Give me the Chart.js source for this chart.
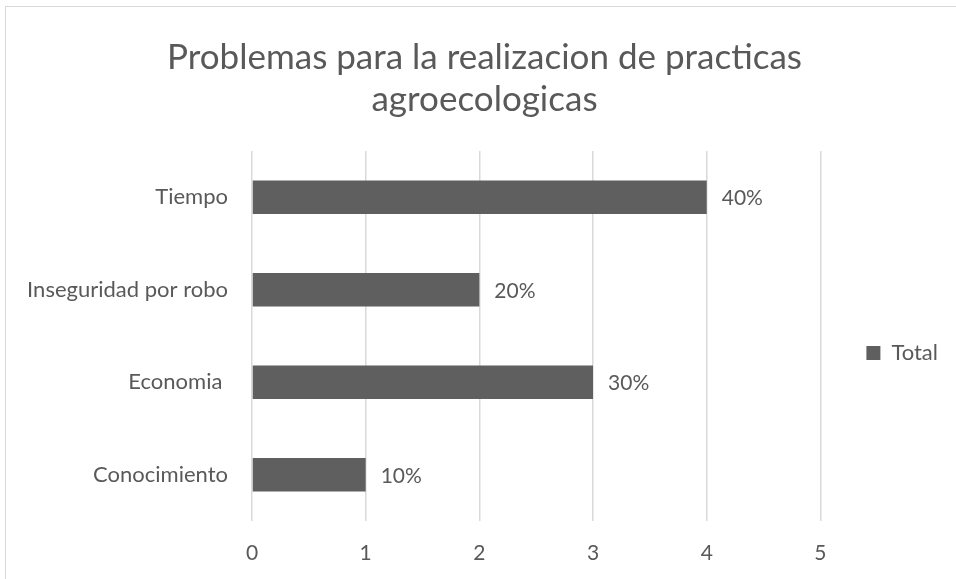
<!DOCTYPE html>
<html>
<head>
<meta charset="utf-8">
<script src="https://cdn.jsdelivr.net/npm/chart.js@4"></script>
<style>
  html, body { margin: 0; padding: 0; background: #fff; }
  #marco {
    position: absolute; left: 5px; top: 6px; width: 960px; height: 580px;
    border-top: 1.5px solid #d9d9d9; border-left: 1.5px solid #d9d9d9;
    box-sizing: border-box;
  }
  #caja { position: absolute; left: 0; top: 0; width: 956px; height: 579px; }
</style>
</head>
<body>
<div id="marco"></div>
<div id="caja"><canvas id="graficoProblemas"></canvas></div>
<script>
const categorias = ['Tiempo', 'Inseguridad por robo', 'Economia ', 'Conocimiento'];
const valores = [4, 2, 3, 1];
const etiquetas = ['40%', '20%', '30%', '10%'];
const ticksX = [0, 1, 2, 3, 4, 5];

const grisTexto = '#595959';
const grisBarra = '#5f5f5f';
const grisLinea = '#d9d9d9';
const fuente = 'Lato';

Chart.defaults.font.family = fuente;
Chart.defaults.color = grisTexto;

// etiquetas de datos a la derecha de cada barra
const pluginEtiquetas = {
    id: 'etiquetas',
    afterDatasetsDraw(chart) {
        const ctx = chart.ctx;
        const meta = chart.getDatasetMeta(0);
        ctx.save();
        ctx.font = '21px ' + fuente;
        ctx.fillStyle = grisTexto;
        ctx.textBaseline = 'middle';
        ctx.textAlign = 'left';
        meta.data.forEach((barra, i) => {
            ctx.fillText(etiquetas[i], barra.x + 15, barra.y + 1);
        });
        ctx.restore();
    }
};

var ctx = document.getElementById('graficoProblemas').getContext('2d');
window.myBar = new Chart(ctx, {
    type: 'bar',
    data: {
        labels: categorias,
        datasets: [{
            label: 'Total',
            data: valores,
            backgroundColor: grisBarra,
            borderWidth: 0,
            barPercentage: 0.36,
            categoryPercentage: 1
        }]
    },
    options: {
        indexAxis: 'y',
        responsive: true,
        maintainAspectRatio: false,
        animation: false,
        layout: { padding: { left: 21, right: 8, top: 8, bottom: 0 } },
        plugins: {
            title: {
                display: true,
                text: ['Problemas para la realizacion de practicas', 'agroecologicas'],
                font: { size: 35, weight: 'normal' },
                color: grisTexto,
                lineHeight: 1.23,
                padding: { top: 29, bottom: 30 }
            },
            legend: {
                position: 'right',
                title: { display: true, text: ' ', padding: 47, font: { size: 21 } },
                labels: {
                    boxWidth: 14,
                    boxHeight: 14,
                    padding: 46,
                    font: { size: 22 },
                    color: grisTexto
                }
            },
            tooltip: { enabled: false }
        },
        scales: {
            x: {
                min: 0,
                max: 5,
                afterBuildTicks(scale) {
                    scale.ticks = ticksX.map((v) => ({ value: v }));
                },
                afterFit(scale) { scale.height = 58; },
                grid: { color: grisLinea, lineWidth: 1.5, drawTicks: false },
                border: { display: false },
                ticks: { padding: 20, font: { size: 21 }, color: grisTexto }
            },
            y: {
                afterFit(scale) { scale.width = 231; },
                grid: { display: false, drawTicks: false },
                border: { display: false },
                ticks: { padding: 24, font: { size: 22 }, color: grisTexto }
            }
        }
    },
    plugins: [pluginEtiquetas]
});
</script>
</body>
</html>
